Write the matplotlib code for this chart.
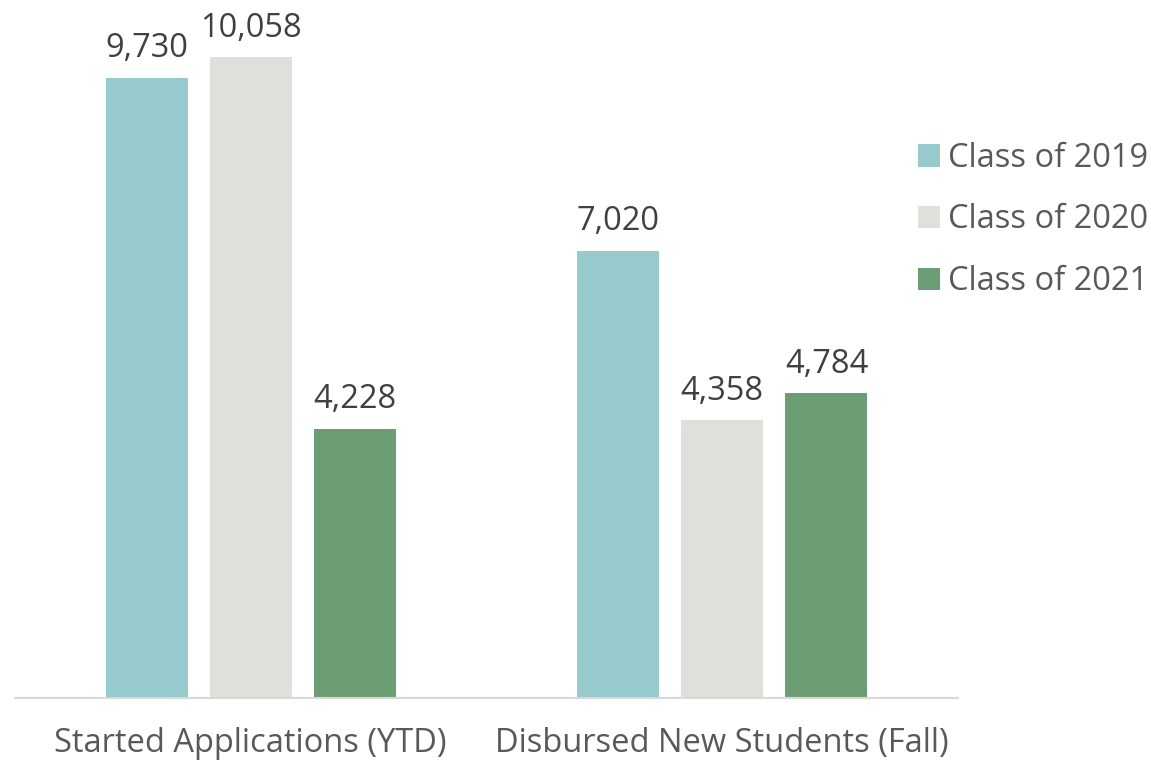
import matplotlib
matplotlib.use("Agg")
import matplotlib.pyplot as plt
import numpy as np

categories = ["Started Applications (YTD)", "Disbursed New Students (Fall)"]
series_names = ["Class of 2019", "Class of 2020", "Class of 2021"]
class_2019 = [9730, 7020]
class_2020 = [10058, 4358]
class_2021 = [4228, 4784]
colors = ["#96CACD", "#E0DFDA", "#6B9E74"]

plt.rcParams['font.family'] = ['Open Sans', 'DejaVu Sans']

W, H = 1151, 764
fig = plt.figure(figsize=(W/100, H/100), dpi=100)
ax = fig.add_axes([15/W, 66/H, (958-15)/W, (754-66)/H])

FS = 23.5
x = np.arange(len(categories))
width = 0.174
step = 0.221
all_series = [class_2019, class_2020, class_2021]
bars = []
for i, (vals, name, c) in enumerate(zip(all_series, series_names, colors)):
    b = ax.bar(x + (i-1)*step, vals, width, color=c, label=name)
    bars.append(b)
    for xi, v in zip(x + (i-1)*step, vals):
        ax.text(xi, v + 200, f"{v:,}", ha='center', va='bottom', fontsize=FS, color='#404040')

ax.set_xlim(-0.5, 1.5)
ax.set_ylim(0, 10800)
ax.set_yticks([])
ax.set_xticks(x)
ax.set_xticklabels(categories, fontsize=FS, color='#595959')
ax.tick_params(axis='x', length=0, pad=21)
for s in ['top', 'right', 'left']:
    ax.spines[s].set_visible(False)
ax.spines['bottom'].set_color('#D9D9D9')
ax.spines['bottom'].set_linewidth(1.5)

leg = fig.legend(handles=bars, labels=series_names, loc='center left',
                 bbox_to_anchor=(918/W, 1 - 220/H), frameon=False, fontsize=FS,
                 handlelength=0.68, handleheight=0.68, handletextpad=0.25,
                 labelspacing=0.88, labelcolor='#595959', borderpad=0, borderaxespad=0)

fig.savefig("out.png", dpi=100)
